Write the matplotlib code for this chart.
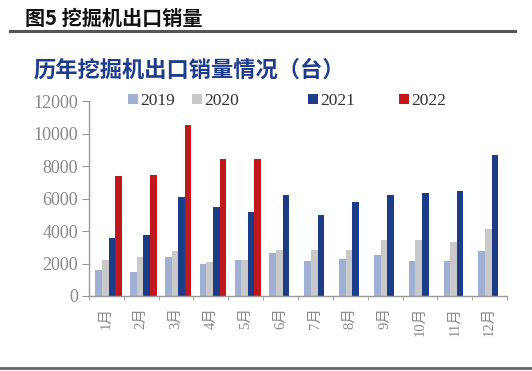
import matplotlib
matplotlib.use("Agg")
import matplotlib.pyplot as plt
import numpy as np
from matplotlib.patches import Patch
from matplotlib.lines import Line2D

plt.rcParams['font.family'] = ['Liberation Serif', 'Noto Sans CJK SC', 'DejaVu Sans']

months = ['1月', '2月', '3月', '4月', '5月', '6月', '7月', '8月', '9月', '10月', '11月', '12月']
years = ['2019', '2020', '2021', '2022']
v2019 = [1600, 1500, 2400, 2000, 2200, 2650, 2150, 2250, 2550, 2150, 2150, 2800]
v2020 = [2200, 2400, 2800, 2100, 2230, 2850, 2850, 2850, 3450, 3450, 3350, 4150]
v2021 = [3600, 3780, 6080, 5500, 5200, 6200, 4960, 5770, 6200, 6320, 6460, 8670]
v2022 = [7380, 7440, 10550, 8450, 8460]
yticks = [0, 2000, 4000, 6000, 8000, 10000, 12000]
colors = ['#9fb0d2', '#c9c9c9', '#1c3c88', '#c0161c']

W, H = 532, 371
fig = plt.figure(figsize=(W/100, H/100), dpi=100)
fig.patch.set_facecolor('white')

ax = fig.add_axes([89/W, 1-296/H, (507-89)/W, (296-101)/H])
x = np.arange(len(months))
w = 0.19
series = [v2019, v2020, v2021, v2022]
offs = [-1.5, -0.5, 0.5, 1.5]
for s, c, o, lab in zip(series, colors, offs, years):
    ax.bar(x[:len(s)] + o*w + 0.06, s, width=w, color=c, label=lab, linewidth=0)

ax.set_xlim(-0.5, 11.5)
ax.set_ylim(0, 12000)
ax.set_yticks(yticks)
ax.set_yticklabels([str(t) for t in yticks], fontsize=13, color='#888888')
ax.set_xticks(x)
ax.set_xticklabels(months, rotation=90, fontsize=10.5, color='#888888')
ax.tick_params(axis='x', length=0, pad=8)
ax.set_xticks(np.arange(-0.5, 12, 1), minor=True)
ax.tick_params(axis='x', which='minor', length=3, color='#999999', direction='out')
ax.tick_params(axis='y', length=5, color='#999999', direction='out', pad=3)
for sp in ['top', 'right']:
    ax.spines[sp].set_visible(False)
for sp in ['left', 'bottom']:
    ax.spines[sp].set_color('#999999')
    ax.spines[sp].set_linewidth(1)

# legend entries placed individually
leg_x = [128, 192, 308, 399]
for lab, c, lx in zip(years, colors, leg_x):
    h = [Patch(facecolor=c, edgecolor='none', label=lab)]
    lg = fig.legend(handles=h, loc='center left', bbox_to_anchor=(lx/W, 1-101/H),
                    frameon=False, fontsize=12.5, handlelength=0.55, handleheight=0.55,
                    handletextpad=0.15, borderpad=0, borderaxespad=0)
    for t in lg.get_texts():
        t.set_color('#333333')

fig.text(25/W, 1-18/H, '图5 挖掘机出口销量', fontsize=14.5, fontweight='bold',
         family=['Noto Sans CJK SC'], va='center', ha='left', color='#111111')
fig.add_artist(Line2D([10/W, 515/W], [1-31/H, 1-31/H], color='#555555', linewidth=2.2))
fig.text(33/W, 1-70/H, '历年挖掘机出口销量情况（台）', fontsize=16, fontweight='bold',
         family=['Noto Sans CJK SC'], va='center', ha='left', color='#1e3c8c')
fig.add_artist(Line2D([0, 1], [1-368/H, 1-368/H], color='#666666', linewidth=2))

fig.savefig('out.png', dpi=100, facecolor='white')
